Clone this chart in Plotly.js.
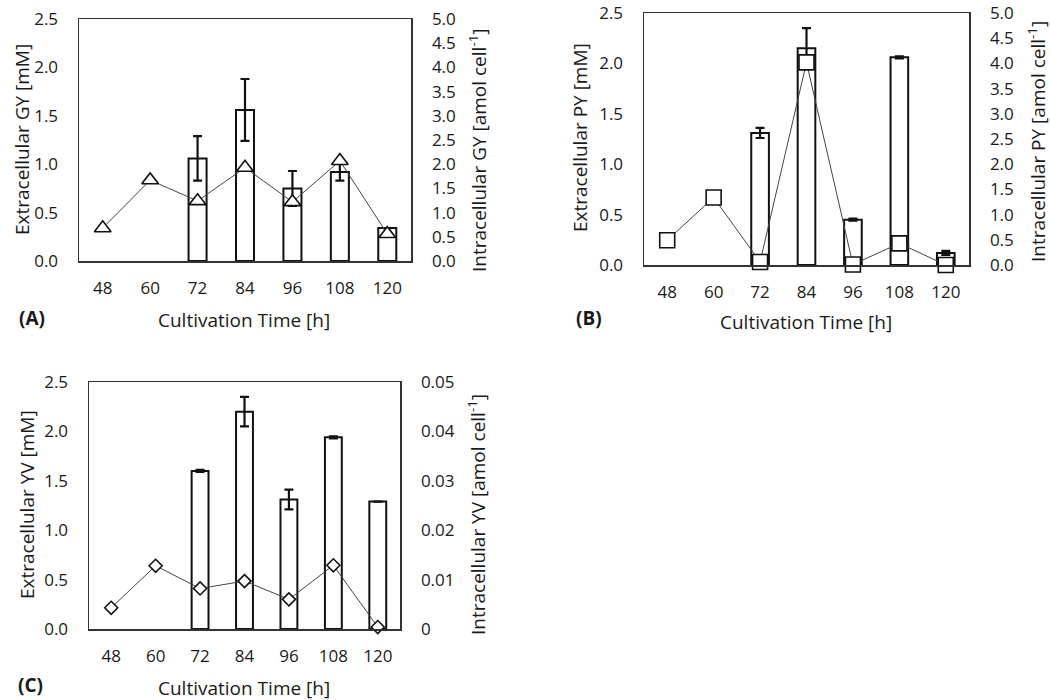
<!DOCTYPE html>
<html>
<head>
<meta charset="utf-8">
<script src="https://cdn.plot.ly/plotly-3.0.1.min.js"></script>
<style>html,body{margin:0;padding:0;background:#fff;}#chart{width:1050px;height:700px;}</style>
</head>
<body>
<div id="chart"></div>
<script>
// ---- data ----
const times = ['48', '60', '72', '84', '96', '108', '120'];
const barTimes = ['72', '84', '96', '108', '120'];

const gyExtracellular = [1.06, 1.56, 0.75, 0.92, 0.34];
const gyExtracellularErr = [0.23, 0.32, 0.18, 0.09, 0];
const gyIntracellular = [0.68, 1.67, 1.24, 1.93, 1.22, 2.07, 0.56];

const pyExtracellular = [1.31, 2.15, 0.45, 2.06, 0.12];
const pyExtracellularErr = [0.05, 0.20, 0.01, 0.01, 0.02];
const pyIntracellular = [0.49, 1.34, 0.06, 4.02, 0.01, 0.43, 0.0];

const yvExtracellular = [1.60, 2.20, 1.31, 1.94, 1.29];
const yvExtracellularErr = [0.01, 0.15, 0.10, 0.01, 0];
const yvIntracellular = [0.0043, 0.0128, 0.0082, 0.0097, 0.0060, 0.0129, 0.0004];

// ---- styling ----
const FONT = 'Open Sans, Noto Sans, sans-serif';
const TXT = '#1a1a1a';
const TICK = 17, TITLE = 19;
const W = 1050, H = 700;
const px = x => x / W;
const py = y => 1 - y / H;

function barTrace(y, err, xa, ya) {
  return {
    type: 'bar', x: barTimes, y: y, xaxis: xa, yaxis: ya, width: 0.38,
    marker: {color: '#ffffff', line: {color: '#111', width: 2}},
    error_y: {type: 'data', array: err, visible: true, color: '#111', thickness: 2.2, width: 4.5},
    showlegend: false, hoverinfo: 'x+y'
  };
}
function lineTrace(y, symbol, size, xa, ya) {
  return {
    type: 'scatter', mode: 'lines+markers', x: times, y: y, xaxis: xa, yaxis: ya,
    line: {color: '#444', width: 1},
    marker: {symbol: symbol, size: size, color: '#ffffff', line: {color: '#111', width: 1.6}},
    showlegend: false, cliponaxis: false
  };
}

const data = [
  barTrace(gyExtracellular, gyExtracellularErr, 'x', 'y'),
  lineTrace(gyIntracellular, 'triangle-up', 14.5, 'x', 'y2'),
  barTrace(pyExtracellular, pyExtracellularErr, 'x2', 'y3'),
  lineTrace(pyIntracellular, 'square', 15, 'x2', 'y4'),
  barTrace(yvExtracellular, yvExtracellularErr, 'x3', 'y5'),
  lineTrace(yvIntracellular, 'diamond', 10, 'x3', 'y6')
];

function xAxis(domain, anchor) {
  return {
    domain: domain, anchor: anchor, type: 'category',
    categoryorder: 'array', categoryarray: times, range: [-0.5, 6.5],
    showline: true, mirror: true, linecolor: '#333', linewidth: 1.5,
    showgrid: false, zeroline: false, ticks: '', ticklabelstandoff: 11,
    ticklabeloverflow: 'allow',
    tickfont: {family: FONT, size: TICK, color: TXT}, fixedrange: true
  };
}
function yLeft(domain, anchor) {
  return {
    domain: domain, anchor: anchor, range: [0, 2.5], dtick: 0.5, tickformat: '.1f',
    showline: true, mirror: true, linecolor: '#333', linewidth: 1.5,
    showgrid: false, zeroline: false, ticks: '', ticklabelstandoff: 16,
    ticklabeloverflow: 'allow',
    tickfont: {family: FONT, size: TICK, color: TXT}, fixedrange: true
  };
}
function yRight(overlay, anchor, range, dtick, fmt) {
  return {
    overlaying: overlay, anchor: anchor, side: 'right', range: range, dtick: dtick, tickformat: fmt,
    showline: true, linecolor: '#333', linewidth: 1.5,
    showgrid: false, zeroline: false, ticks: '', ticklabelstandoff: 16,
    ticklabeloverflow: 'allow',
    tickfont: {family: FONT, size: TICK, color: TXT}, fixedrange: true
  };
}

const domA = {x: [px(79), px(411)], y: [py(261), py(19)]};
const domB = {x: [px(644), px(969)], y: [py(265), py(13)]};
const domC = {x: [px(89), px(400)], y: [py(629), py(382)]};

function ann(text, x, y, opts) {
  return Object.assign({
    text: text, x: px(x), y: py(y), xref: 'paper', yref: 'paper',
    xanchor: 'center', yanchor: 'middle', showarrow: false,
    font: {family: FONT, size: TITLE, color: TXT}
  }, opts || {});
}

const annotations = [
  ann('Extracellular GY [mM]', 22, 140, {textangle: -90}),
  ann('Intracellular GY [amol cell<sup>-1</sup>]', 478, 150, {textangle: -90}),
  ann('Cultivation Time [h]', 244, 320),
  ann('<b>(A)</b>', 32, 318),
  ann('Extracellular PY [mM]', 580, 138, {textangle: -90}),
  ann('Intracellular PY [amol cell<sup>-1</sup>]', 1037, 142, {textangle: -90}),
  ann('Cultivation Time [h]', 806, 322),
  ann('<b>(B)</b>', 589, 318),
  ann('Extracellular YV [mM]', 27, 505, {textangle: -90}),
  ann('Intracellular YV [amol cell<sup>-1</sup>]', 477, 515, {textangle: -90}),
  ann('Cultivation Time [h]', 244, 688),
  ann('<b>(C)</b>', 30, 685)
];

const layout = {
  width: W, height: H,
  margin: {l: 0, r: 0, t: 0, b: 0},
  paper_bgcolor: '#ffffff', plot_bgcolor: '#ffffff',
  font: {family: FONT, color: TXT},
  barmode: 'group',
  xaxis: xAxis(domA.x, 'y'),
  yaxis: yLeft(domA.y, 'x'),
  yaxis2: yRight('y', 'x', [0, 5], 0.5, '.1f'),
  xaxis2: xAxis(domB.x, 'y3'),
  yaxis3: yLeft(domB.y, 'x2'),
  yaxis4: yRight('y3', 'x2', [0, 5], 0.5, '.1f'),
  xaxis3: xAxis(domC.x, 'y5'),
  yaxis5: yLeft(domC.y, 'x3'),
  yaxis6: yRight('y5', 'x3', [0, 0.05], 0.01, ''),
  annotations: annotations
};

Plotly.newPlot('chart', data, layout, {displayModeBar: false, staticPlot: true});
</script>
</body>
</html>
